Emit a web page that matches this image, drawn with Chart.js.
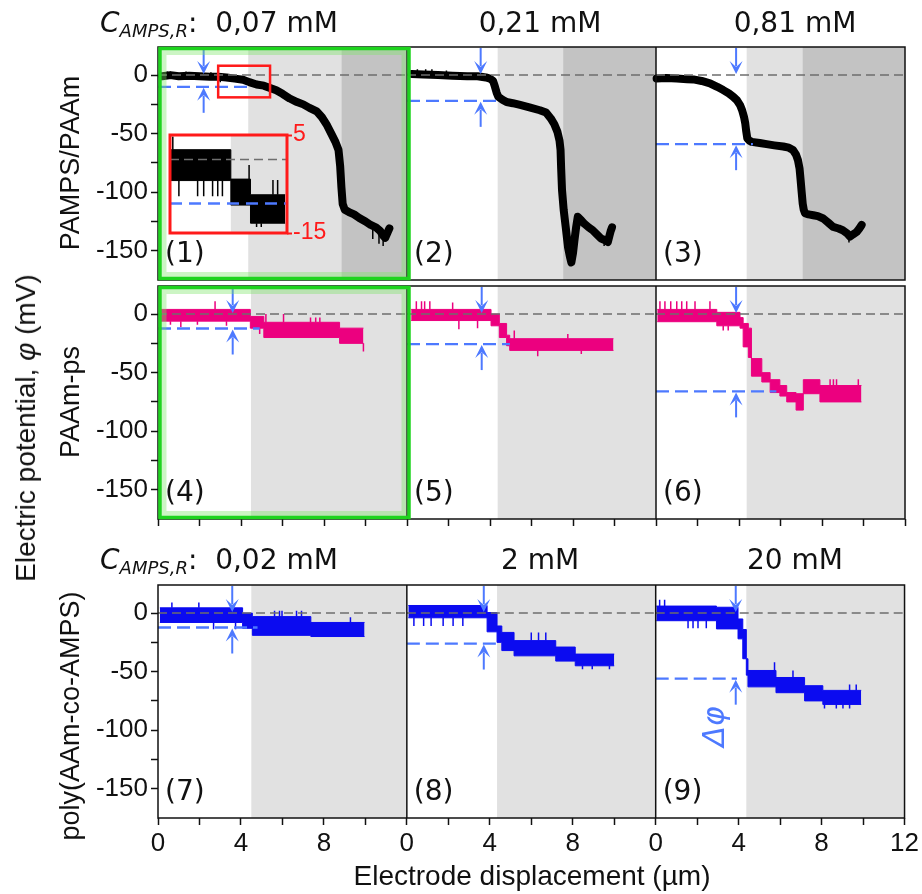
<!DOCTYPE html>
<html>
<head>
<meta charset="utf-8">
<title>Electric potential vs electrode displacement</title>
<script src="https://cdn.jsdelivr.net/npm/chart.js@4.4.1/dist/chart.umd.min.js"></script>
<style>
  html, body { margin: 0; padding: 0; background: #fff; }
  #fig { position: relative; width: 922px; height: 894px; overflow: hidden; background: #fff; color: #111; }
  #fig canvas { position: absolute; left: 0; top: 0; }
  .hdr { position: absolute; font-family: "DejaVu Sans", Verdana, sans-serif; font-size: 28px; line-height: 28px; white-space: nowrap; }
  .hdr .c { font-style: italic; }
  .hdr .sub { font-style: italic; font-size: 18px; position: relative; top: 5px; }
  .mid { transform: translateX(-50%); }
  .rot { position: absolute; white-space: nowrap; font-family: "Liberation Sans", Arial, sans-serif; line-height: 1; transform: translate(-50%, -50%) rotate(-90deg); }
  .xt { position: absolute; font-family: "Liberation Sans", Arial, sans-serif; font-size: 28px; line-height: 28px; white-space: nowrap; transform: translateX(-50%); }
</style>
</head>
<body>
<div id="fig">
  <canvas id="row1" width="922" height="894"></canvas>
  <canvas id="row2" width="922" height="894"></canvas>
  <canvas id="row3" width="922" height="894"></canvas>
  <canvas id="inset" width="922" height="894"></canvas>
</div>
<script>
// ---------- texts ----------
const rowNames   = ['PAMPS/PAAm', 'PAAm-ps', 'poly(AAm-co-AMPS)'];
const concTop    = ['0,07 mM', '0,21 mM', '0,81 mM'];
const concBottom = ['0,02 mM', '2 mM', '20 mM'];
const xTitle     = 'Electrode displacement (\u00b5m)';
const yTitle     = 'Electric potential, <i>\u03c6</i> (mV)';
const dphiLabel  = '\u0394\u03c6';

// ---------- axes ----------
const SPAN = 12;   // µm covered by one panel
const xTickVals = [0, 2, 4, 6, 8, 10, 12, 14, 16, 18, 20, 22, 24, 26, 28, 30, 32, 34, 36];
const yTickVals = [-150, -125, -100, -75, -50, -25, 0];
const yMin = -175, yMax = 24;

// ---------- PAMPS/PAAm (black) ----------
const p1X = [0.2, 0.6, 1.0, 1.5, 2.0, 2.5, 2.9, 3.3, 3.7, 4.1, 4.4, 4.75, 5.1, 5.4, 5.7, 6.0, 6.35, 6.7, 7.0, 7.3, 7.65, 7.9, 8.15, 8.35, 8.55, 8.7, 8.78, 8.84, 8.9, 9.0, 9.2, 9.45, 9.7, 10.0, 10.25, 10.5, 10.7, 10.85, 10.95, 11.05, 11.15];
const p1Y = [-1, 0, -1, -0.5, -1, -1.5, -1.5, -2, -3, -4, -6, -8, -9, -11, -13, -16, -20, -23, -25, -28, -31, -36, -43, -50, -57, -64, -78, -96, -110, -115, -117, -119, -122, -125, -128, -130, -133, -137, -139, -135, -131];
const p1Spk = [[0.45, -1, 3], [1.35, -1, 3], [2.55, -1, 2.5], [3.0, -2, -6], [10.35, -130, -140], [10.65, -133, -144], [10.85, -137, -146]];

const p2X = [0.23, 0.8, 1.5, 2.2, 2.9, 3.4, 3.8, 4.0, 4.15, 4.24, 4.32, 4.4, 4.6, 4.8, 5.1, 5.45, 5.9, 6.4, 6.7, 6.93, 7.1, 7.25, 7.35, 7.4, 7.43, 7.47, 7.55, 7.65, 7.76, 7.85, 7.92, 8.0, 8.07, 8.15, 8.23, 8.4, 8.55, 8.75, 8.95, 9.15, 9.35, 9.55, 9.68, 9.76, 9.82, 9.88];
const p2Y = [1, 0.5, 0, -0.5, -1, -1, -2, -3, -5, -10, -15, -18.5, -21, -23, -24, -25.5, -27.5, -30, -32, -37, -42, -48.5, -56, -64, -80, -98, -115, -130, -147, -155, -160, -152, -141, -130, -121, -124, -127, -130, -132.5, -136, -139.6, -141, -142.5, -137, -133, -130];
const p2Spk = [[0.5, 1, 5], [0.9, 1, 5], [1.2, 1, 5], [1.9, 1, 4], [9.5, -141, -146]];

const p3X = [0.03, 0.5, 1.0, 1.5, 1.8, 2.2, 2.6, 2.95, 3.24, 3.5, 3.72, 3.9, 4.05, 4.15, 4.24, 4.3, 4.34, 4.4, 4.5, 4.61, 5.0, 5.33, 5.7, 6.13, 6.4, 6.6, 6.75, 6.84, 6.92, 6.97, 7.02, 7.07, 7.12, 7.18, 7.35, 7.58, 7.8, 8.06, 8.3, 8.54, 8.8, 9.0, 9.2, 9.35, 9.5, 9.67, 9.8, 9.91];
const p3Y = [-2.9, -2.5, -3, -3.5, -3.7, -5, -7, -10, -12.8, -15.5, -18.5, -21.5, -25.6, -30, -35.6, -41, -47, -54, -56, -57, -58, -59, -60, -61, -62, -64, -68, -72.6, -80, -89.7, -100, -109.7, -115, -118, -119, -119.7, -120.5, -122.5, -126, -129.7, -131, -132.5, -135, -138, -136, -134, -131, -128];
const p3Spk = [[1.3, -3.5, 0], [9.3, -138, -143]];

// ---------- PAAm-ps (pink), upper / lower envelope of the trace ----------
const p4X  = [0.15, 4.45, 5.1, 8.75, 9.9];
const p4Hi = [4, -2, -7, -12, -12];
const p4Lo = [-6, -12, -20, -25, -25];
const p4Spk = [[0.6, -6, -9], [1.1, -6, -11], [1.9, -6, -9], [2.75, 4, 11], [3.3, -6, -10], [4.9, -12, -17], [5.2, -7, 0], [6.05, -7, 0], [7.35, -7, -3], [7.6, -7, -3], [7.8, -7, -3], [9.9, -25, -32]];

const p5X  = [0.2, 4.05, 4.45, 4.8, 4.95, 9.95];
const p5Hi = [4, 0, -8, -18, -21, -21];
const p5Lo = [-5.5, -10, -20, -27, -31, -31];
const p5Spk = [[0.45, 4, 11], [0.7, 4, 11], [0.85, 4, 11], [1.1, 4, 11], [2.2, 4, 10], [2.5, -5.5, -13], [3.4, -5.5, -12], [5.17, -21, -14], [6.3, -31, -36], [7.75, -21, -17], [8.4, -31, -34]];

const p6X  = [0.06, 2.93, 4.05, 4.2, 4.45, 4.6, 5.1, 5.5, 5.97, 6.3, 6.75, 7.1, 7.9, 9.9];
const p6Hi = [4, 1.5, -3, -8, -12, -38, -50, -56, -61, -67, -68, -56, -61, -61];
const p6Lo = [-6.5, -10, -12, -28, -37, -53, -58, -67, -70, -75, -82, -68, -75, -75];
const p6Spk = [[0.19, 4, 11], [0.43, 4, 11], [0.71, 4, 11], [1.0, 4, 11], [1.24, 4, 11], [1.48, 4, 11], [1.88, 4, 11], [2.6, 4, 11], [3.24, -10, -14], [3.48, -10, -14], [8.39, -61, -55.6], [8.55, -61, -55.6], [8.7, -61, -55.6], [9.75, -61, -55.6]];

// ---------- poly(AAm-co-AMPS) (blue) ----------
const p7X  = [0.09, 4.08, 4.55, 7.37, 9.96];
const p7Hi = [4.5, 0, -3, -8, -8];
const p7Lo = [-8, -13, -19, -20, -20];
const p7Spk = [[0.67, 4.5, 9], [1.97, 4.5, 9], [2.68, -8, -13.7], [3.74, -8, -13.7], [5.62, -3, 2], [5.86, -3, 2], [5.98, -3, 2], [6.68, -3, 2], [6.92, -3, 2], [9.28, -8, -3.5]];

const p8X  = [0.07, 3.87, 4.35, 4.58, 5.17, 7.18, 8.12, 10.0];
const p8Hi = [6.5, 0.5, -11, -16.5, -23.5, -29, -35, -35];
const p8Lo = [-4, -16, -25, -32, -36.5, -41, -45, -45];
const p8Spk = [[0.34, -4, -11], [0.81, -4, -11], [1.17, -4, -11], [1.75, -4, -11], [2.23, -4, -11], [2.7, -4, -11], [6.0, -23.5, -16.5], [6.35, -23.5, -16.5], [6.7, -23.5, -16.5], [8.47, -45, -48], [8.94, -45, -48], [9.77, -45, -48]];

const p9X  = [0.03, 2.93, 3.97, 4.2, 4.37, 4.45, 5.8, 7.18, 8.06, 9.91];
const p9Hi = [6, 5, -5, -14, -39, -49, -55, -62, -66, -66];
const p9Lo = [-6.5, -13.5, -22, -39, -53, -63, -68, -75, -78, -78];
const p9Spk = [[0.19, 6, 11.4], [0.43, 6, 11.4], [1.56, -6.5, -13], [1.8, -6.5, -13], [2.04, -6.5, -13], [2.44, -6.5, -13], [5.73, -49, -42], [6.62, -55, -49], [8.14, -78, -81.5], [8.71, -78, -81.5], [9.03, -78, -81.5], [9.35, -78, -81.5], [9.35, -66, -61], [9.67, -66, -61]];

// ---------- per-panel step height and regions ----------
const dphi       = [-10, -22, -59, -12.3, -25.6, -66, -12.3, -26, -56];
const dphiEnd    = [4.4, 4.5, 4.67, 4.9, 4.96, 5.8, 4.8, 4.58, 3.92];
const arrowX     = [2.2, 3.55, 3.86, 3.6, 3.6, 3.86, 3.58, 3.71, 3.86];
const shadeLight = [4.35, 4.37, 4.37, 4.48, 4.37, 4.37, 4.5, 4.35, 4.37];
const shadeDark  = [8.85, 7.53, 7.07, null, null, null, null, null, null];

// ---------- magnified window of panel (1) ----------
const insetXRange = [2.9, 5.4];
const insetYRange = [-15, 5];
const insetTicks  = [5, -15];
const insetShade  = 4.2;
const insetDphi   = -9;
const insX  = [2.92, 4.2, 4.62, 5.36];
const insHi = [2, -4, -7.2, -7.2];
const insLo = [-4.3, -9.3, -13, -13];
const insSpk = [[2.96, 2, 4.7], [3.09, -4.3, -7.5], [3.49, -4.3, -7.5], [3.62, -4.3, -7.5], [3.81, -4.3, -7.5], [3.92, -4.3, -7.5], [4.02, -4.3, -7.5], [4.59, -4, -1.1], [4.75, -13, -13.8], [4.85, -13, -13.8], [5.1, -7.2, -4.2], [5.2, -7.2, -4.2]];
const markerBox = [2.9, 5.4, -19, 8];   // outline drawn on panel (1)

// ---------- styling ----------
const INK = '#111';
const C_BLACK = '#000', C_PINK = '#ec007f', C_BLUE = '#0b0bf0';
const ACCENT = '#4d79ff', ZERO_GRAY = '#6e6e6e';
const SHADE_LIGHT = '#e1e1e1', SHADE_DARK = '#c3c3c3';
const GREEN = '#1ed41e', GREEN_SOFT = 'rgba(120,230,100,0.38)', RED = '#ff1a1a';

Chart.defaults.font.family = '"Liberation Sans", Arial, sans-serif';
Chart.defaults.color = INK;

const panels = [
  { xs: p1X, ys: p1Y, spikes: p1Spk, color: C_BLACK },
  { xs: p2X, ys: p2Y, spikes: p2Spk, color: C_BLACK },
  { xs: p3X, ys: p3Y, spikes: p3Spk, color: C_BLACK },
  { xs: p4X, hi: p4Hi, lo: p4Lo, spikes: p4Spk, color: C_PINK },
  { xs: p5X, hi: p5Hi, lo: p5Lo, spikes: p5Spk, color: C_PINK },
  { xs: p6X, hi: p6Hi, lo: p6Lo, spikes: p6Spk, color: C_PINK },
  { xs: p7X, hi: p7Hi, lo: p7Lo, spikes: p7Spk, color: C_BLUE },
  { xs: p8X, hi: p8Hi, lo: p8Lo, spikes: p8Spk, color: C_BLUE },
  { xs: p9X, hi: p9Hi, lo: p9Lo, spikes: p9Spk, color: C_BLUE }
];

function pts(off, xs, ys) { return xs.map((v, i) => ({ x: off + v, y: ys[i] })); }
function spikePts(off, list) {
  const out = [];
  list.forEach(([sx, a, b]) => { out.push({ x: off + sx, y: a }, { x: off + sx, y: b }, { x: off + sx, y: null }); });
  return out;
}
function traceSets(off, p) {
  const sets = [];
  if (p.hi) {
    sets.push({ data: pts(off, p.xs, p.hi), borderColor: p.color, backgroundColor: p.color, borderWidth: 1, stepped: true, fill: '+1', order: 5 });
    sets.push({ data: pts(off, p.xs, p.lo), borderColor: p.color, borderWidth: 1, stepped: true, fill: false, order: 5 });
  } else {
    sets.push({ data: pts(off, p.xs, p.ys), borderColor: p.color, borderWidth: 8, borderJoinStyle: 'round', borderCapStyle: 'round', fill: false, order: 5 });
  }
  sets.push({ data: spikePts(off, p.spikes), borderColor: p.color, borderWidth: 1.5, fill: false, order: 4 });
  return sets;
}
function panelDatasets(k, off) {
  const sets = traceSets(off, panels[k]);
  sets.push({ data: [{ x: off, y: dphi[k] }, { x: off + dphiEnd[k], y: dphi[k] }], borderColor: ACCENT, borderWidth: 2.3, borderDash: [13, 6], fill: false, order: 2 });
  sets.push({ data: [{ x: off, y: 0 }, { x: off + SPAN, y: 0 }], borderColor: ZERO_GRAY, borderWidth: 1.5, borderDash: [9, 5], fill: false, order: 1 });
  return sets;
}

function drawArrow(ctx, x, yFrom, yTo) {
  const dir = Math.sign(yTo - yFrom), head = 13, half = 6.5;
  ctx.strokeStyle = ACCENT; ctx.fillStyle = ACCENT; ctx.lineWidth = 2;
  ctx.beginPath(); ctx.moveTo(x, yFrom); ctx.lineTo(x, yTo - dir * head * 0.6); ctx.stroke();
  ctx.beginPath();
  ctx.moveTo(x, yTo);
  ctx.lineTo(x - half, yTo - dir * head);
  ctx.lineTo(x, yTo - dir * head * 0.55);
  ctx.lineTo(x + half, yTo - dir * head);
  ctx.closePath(); ctx.fill();
}

const panelDecor = {
  id: 'panelDecor',
  beforeDatasetsDraw(chart, args, opts) {
    const { ctx, chartArea: a, scales: { x } } = chart;
    ctx.save();
    for (let c = 0; c < 3; c++) {
      const k = opts.row * 3 + c, off = c * SPAN;
      const xEnd = x.getPixelForValue(off + SPAN);
      const xl = x.getPixelForValue(off + shadeLight[k]);
      ctx.fillStyle = SHADE_LIGHT; ctx.fillRect(xl, a.top, xEnd - xl, a.bottom - a.top);
      if (shadeDark[k] !== null) {
        const xd = x.getPixelForValue(off + shadeDark[k]);
        ctx.fillStyle = SHADE_DARK; ctx.fillRect(xd, a.top, xEnd - xd, a.bottom - a.top);
      }
    }
    ctx.restore();
  },
  afterDatasetsDraw(chart, args, opts) {
    const { ctx, chartArea: a, scales: { x, y } } = chart;
    const row = opts.row;
    ctx.save();
    const y0 = y.getPixelForValue(0);
    for (let c = 0; c < 3; c++) {
      const k = row * 3 + c, off = c * SPAN;
      const ax = x.getPixelForValue(off + arrowX[k]);
      const yd = y.getPixelForValue(dphi[k]);
      drawArrow(ctx, ax, a.top + 1, y0 - 1);
      drawArrow(ctx, ax, yd + 26, yd + 1);
      ctx.fillStyle = INK; ctx.font = '28px "DejaVu Sans"';
      ctx.textAlign = 'left'; ctx.textBaseline = 'alphabetic';
      ctx.fillText('(' + (k + 1) + ')', x.getPixelForValue(off) + 7, a.bottom - 18);
      if (k === 8) {
        ctx.save();
        ctx.translate(ax - 20, yd + 48);
        ctx.rotate(-Math.PI / 2);
        ctx.fillStyle = ACCENT; ctx.font = 'italic 30px "DejaVu Sans"';
        ctx.textAlign = 'center'; ctx.textBaseline = 'middle';
        ctx.fillText(dphiLabel, 0, 0);
        ctx.restore();
      }
    }
    if (row === 0) {
      const bx0 = x.getPixelForValue(markerBox[0]), bx1 = x.getPixelForValue(markerBox[1]);
      const by0 = y.getPixelForValue(markerBox[3]), by1 = y.getPixelForValue(markerBox[2]);
      ctx.strokeStyle = RED; ctx.lineWidth = 2.5;
      ctx.strokeRect(bx0, by0, bx1 - bx0, by1 - by0);
    }
    // panel frames
    ctx.strokeStyle = INK; ctx.lineWidth = 1.5;
    ctx.strokeRect(a.left, a.top, a.right - a.left, a.bottom - a.top);
    [SPAN, 2 * SPAN].forEach(v => {
      const px = x.getPixelForValue(v);
      ctx.beginPath(); ctx.moveTo(px, a.top); ctx.lineTo(px, a.bottom); ctx.stroke();
    });
    // highlight of the first column in the upper two rows
    if (row < 2) {
      const L = x.getPixelForValue(0), R = x.getPixelForValue(SPAN);
      ctx.strokeStyle = GREEN_SOFT; ctx.lineWidth = 5;
      ctx.strokeRect(L + 6, a.top + 5.5, R - L - 9, a.bottom - a.top - 11);
      ctx.strokeStyle = GREEN; ctx.lineWidth = 3.5;
      ctx.strokeRect(L + 2, a.top + 1.5, R - L, a.bottom - a.top - 3);
    }
    ctx.restore();
  }
};

const rowBoxes = [
  { id: 'row1', top: 47, bottom: 280, xh: 0 },
  { id: 'row2', top: 286, bottom: 519, xh: 8 },
  { id: 'row3', top: 585, bottom: 818, xh: 40 }
];

function xLabel(v) {
  if (v === 3 * SPAN) return String(SPAN);
  const local = v % SPAN;
  return local % 4 === 0 ? String(local) : '';
}

rowBoxes.forEach((box, r) => {
  const datasets = [];
  for (let c = 0; c < 3; c++) datasets.push(...panelDatasets(r * 3 + c, c * SPAN));
  new Chart(document.getElementById(box.id), {
    type: 'line',
    data: { datasets },
    options: {
      responsive: false, animation: false, devicePixelRatio: 1,
      layout: { padding: { left: 0, right: 17, top: box.top, bottom: 894 - box.bottom - box.xh } },
      elements: { point: { radius: 0, hoverRadius: 0 }, line: { tension: 0 } },
      plugins: { legend: { display: false }, tooltip: { enabled: false }, panelDecor: { row: r } },
      scales: {
        x: {
          type: 'linear', min: 0, max: 3 * SPAN, display: r > 0,
          afterBuildTicks: s => { s.ticks = xTickVals.map(v => ({ value: v })); },
          afterFit: s => { s.height = box.xh; },
          ticks: { display: r === 2, autoSkip: false, maxRotation: 0, padding: 3, font: { size: 26 }, color: INK, callback: v => xLabel(v) },
          grid: { drawOnChartArea: false, drawTicks: true, tickLength: 7, tickWidth: 1.5, tickColor: INK },
          border: { display: false }
        },
        y: {
          type: 'linear', min: yMin, max: yMax,
          afterBuildTicks: s => { s.ticks = yTickVals.map(v => ({ value: v })); },
          afterFit: s => { s.width = 158; },
          ticks: { autoSkip: false, padding: 3, font: { size: 26 }, color: INK, callback: v => (v % 50 === 0 ? String(v) : '') },
          grid: { drawOnChartArea: false, drawTicks: true, tickLength: 7, tickWidth: 1.5, tickColor: INK },
          border: { display: false }
        }
      }
    },
    plugins: [panelDecor]
  });
});

// ---------- magnified window ----------
const insetDecor = {
  id: 'insetDecor',
  beforeDatasetsDraw(chart) {
    const { ctx, chartArea: a, scales: { x } } = chart;
    ctx.save();
    ctx.fillStyle = '#fff'; ctx.fillRect(a.left, a.top, a.right - a.left, a.bottom - a.top);
    const xs = x.getPixelForValue(insetShade);
    ctx.fillStyle = SHADE_LIGHT; ctx.fillRect(xs, a.top, a.right - xs, a.bottom - a.top);
    ctx.restore();
  },
  afterDatasetsDraw(chart) {
    const { ctx, chartArea: a } = chart;
    ctx.save();
    ctx.strokeStyle = RED; ctx.lineWidth = 3;
    ctx.strokeRect(a.left, a.top, a.right - a.left, a.bottom - a.top);
    ctx.restore();
  }
};
new Chart(document.getElementById('inset'), {
  type: 'line',
  data: {
    datasets: [
      ...traceSets(0, { xs: insX, hi: insHi, lo: insLo, spikes: insSpk, color: C_BLACK }),
      { data: [{ x: insetXRange[0], y: insetDphi }, { x: insetXRange[1], y: insetDphi }], borderColor: ACCENT, borderWidth: 2.5, borderDash: [12, 7], fill: false, order: 2 },
      { data: [{ x: insetXRange[0], y: 0 }, { x: insetXRange[1], y: 0 }], borderColor: ZERO_GRAY, borderWidth: 1.5, borderDash: [9, 5], fill: false, order: 1 }
    ]
  },
  options: {
    responsive: false, animation: false, devicePixelRatio: 1,
    layout: { padding: { left: 170, right: 922 - 287 - 40, top: 135, bottom: 894 - 233 } },
    elements: { point: { radius: 0, hoverRadius: 0 }, line: { tension: 0 } },
    plugins: { legend: { display: false }, tooltip: { enabled: false } },
    scales: {
      x: { type: 'linear', min: insetXRange[0], max: insetXRange[1], display: false },
      y: {
        type: 'linear', position: 'right', min: insetYRange[0], max: insetYRange[1],
        afterBuildTicks: s => { s.ticks = insetTicks.map(v => ({ value: v })); },
        afterFit: s => { s.width = 40; },
        ticks: { padding: 1, font: { size: 23 }, color: RED, callback: v => String(v) },
        grid: { drawOnChartArea: false, drawTicks: true, tickLength: 5, tickWidth: 2, tickColor: RED },
        border: { display: false }
      }
    }
  },
  plugins: [insetDecor]
});

// ---------- surrounding labels ----------
const fig = document.getElementById('fig');
function addDiv(cls, css, html) {
  const d = document.createElement('div');
  d.className = cls; d.style.cssText = css; d.innerHTML = html;
  fig.appendChild(d);
}
const colCenters = [540, 795];
const header = '<span class="c">C</span><span class="sub">AMPS,R</span>:&nbsp;&nbsp;';
addDiv('hdr', 'left:100px;top:9px', header + concTop[0]);
addDiv('hdr mid', 'left:' + colCenters[0] + 'px;top:9px', concTop[1]);
addDiv('hdr mid', 'left:' + colCenters[1] + 'px;top:9px', concTop[2]);
addDiv('hdr', 'left:100px;top:546px', header + concBottom[0]);
addDiv('hdr mid', 'left:' + colCenters[0] + 'px;top:546px', concBottom[1]);
addDiv('hdr mid', 'left:' + colCenters[1] + 'px;top:546px', concBottom[2]);

const rowNameY = [163, 402, 716];
rowNames.forEach((t, i) => addDiv('rot', 'left:70px;top:' + rowNameY[i] + 'px;font-size:27px', t));
addDiv('rot', 'left:26px;top:428px;font-size:28px', yTitle);
addDiv('xt', 'left:532px;top:862px', xTitle);
</script>
</body>
</html>
